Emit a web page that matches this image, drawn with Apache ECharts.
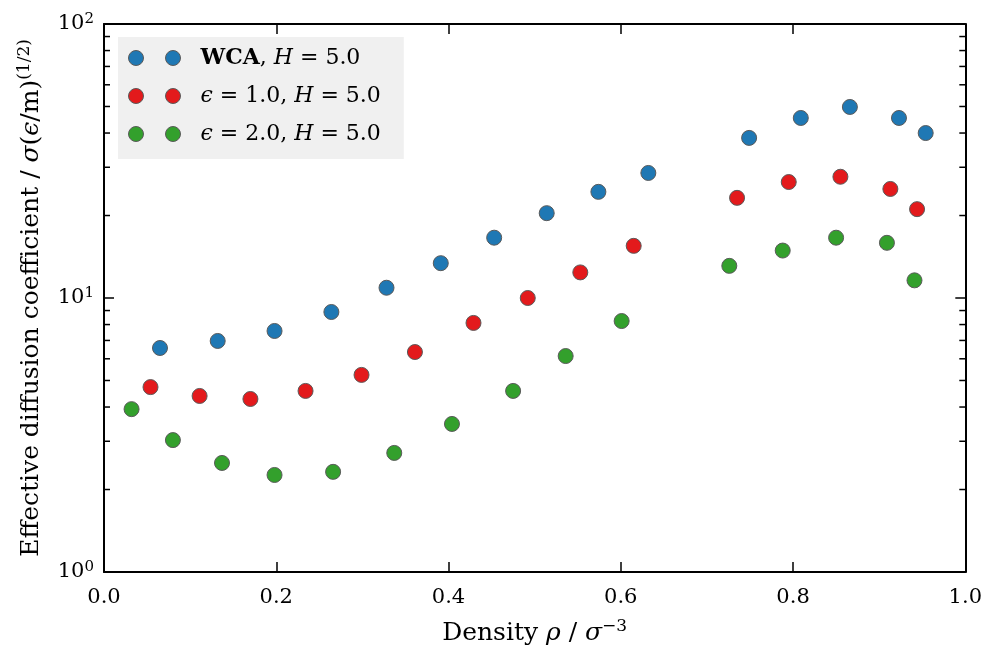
<!DOCTYPE html>
<html>
<head>
<meta charset="utf-8">
<script src="https://cdn.jsdelivr.net/npm/echarts@6/dist/echarts.min.js"></script>
<style>
  html, body { margin: 0; padding: 0; background: #fff; }
  #chart { width: 985px; height: 652px; }
</style>
</head>
<body>
<div id="chart"></div>
<script>
// Density (rho / sigma^-3) and effective diffusion coefficient for each model
const wcaDensity  = [0.065, 0.132, 0.198, 0.264, 0.328, 0.391, 0.453, 0.514, 0.574, 0.632, 0.749, 0.809, 0.866, 0.923, 0.954];
const wcaDiff     = [6.57, 6.97, 7.58, 8.89, 10.9, 13.4, 16.6, 20.4, 24.4, 28.6, 38.4, 45.4, 49.8, 45.4, 40.0];
const eps1Density = [0.054, 0.111, 0.170, 0.234, 0.299, 0.361, 0.429, 0.492, 0.553, 0.615, 0.735, 0.795, 0.855, 0.913, 0.944];
const eps1Diff    = [4.73, 4.39, 4.28, 4.58, 5.24, 6.35, 8.11, 10.0, 12.4, 15.5, 23.2, 26.5, 27.7, 25.0, 21.1];
const eps2Density = [0.032, 0.080, 0.137, 0.198, 0.266, 0.337, 0.404, 0.475, 0.536, 0.601, 0.726, 0.788, 0.850, 0.909, 0.941];
const eps2Diff    = [3.93, 3.03, 2.50, 2.26, 2.32, 2.72, 3.47, 4.58, 6.14, 8.24, 13.1, 14.9, 16.6, 15.9, 11.6];

const seriesNames = ['WCA, H = 5.0', 'ϵ = 1.0, H = 5.0', 'ϵ = 2.0, H = 5.0'];
const xTicks = [0, 0.2, 0.4, 0.6, 0.8, 1.0];
const yMajorTicks = [1, 10, 100];
const yMinorTicks = [2, 3, 4, 5, 6, 7, 8, 9, 20, 30, 40, 50, 60, 70, 80, 90];

const FONT = '"DejaVu Serif", "Liberation Serif", serif';
const colors = ['#1f78b4', '#e31a1c', '#33a02c'];

const chart = echarts.init(document.getElementById('chart'), null, { renderer: 'canvas' });

function pairs(xs, ys) { return xs.map((x, i) => [x, ys[i]]); }

// legend text: bold model name, italic math symbols
const LG = 22;
const legendRich = {
  g: { width: 15 },
  n: { fontFamily: FONT, fontSize: LG, color: '#000' },
  b: { fontFamily: FONT, fontSize: LG, color: '#000', fontWeight: 'bold' },
  i: { fontFamily: FONT, fontSize: LG, color: '#000', fontStyle: 'italic' }
};
const legendText = {
  [seriesNames[0]]: '{g|}{b|WCA}{n|, }{i|H}{n| = 5.0}',
  [seriesNames[1]]: '{g|}{i|ϵ}{n| = 1.0, }{i|H}{n| = 5.0}',
  [seriesNames[2]]: '{g|}{i|ϵ}{n| = 2.0, }{i|H}{n| = 5.0}'
};

const TK = 21;   // tick label size
const TT = 25;   // axis title size
const tickStyle = { color: '#000', width: 1.5 };
const spine = { show: true, onZero: false, lineStyle: { color: '#000', width: 2 } };

const titleRich = {
  t: { fontFamily: FONT, fontSize: TT, color: '#000', lineHeight: 30 },
  m: { fontFamily: FONT, fontSize: TT, color: '#000', lineHeight: 30, fontStyle: 'italic' },
  s: { fontFamily: FONT, fontSize: 17, color: '#000', verticalAlign: 'top', lineHeight: 17 }
};

const scatter = (name, data, color) => ({
  name, type: 'scatter', data, symbol: 'circle', symbolSize: 15,
  itemStyle: { color, borderColor: '#5a5a5a', borderWidth: 1, opacity: 1 },
  emphasis: { disabled: true }
});

chart.setOption({
  animation: false,
  backgroundColor: '#fff',
  grid: { left: 104, right: 18, top: 24, bottom: 80 },
  legend: {
    data: seriesNames,
    orient: 'vertical',
    left: 118, top: 37,
    padding: [10, 23, 14, 10],
    backgroundColor: '#f0f0f0',
    borderWidth: 0,
    itemWidth: 52, itemHeight: 15, itemGap: 16,
    icon: 'path://M0,7.5A7.5,7.5,0,1,0,15,7.5A7.5,7.5,0,1,0,0,7.5ZM37,7.5A7.5,7.5,0,1,0,52,7.5A7.5,7.5,0,1,0,37,7.5Z',
    itemStyle: { borderColor: '#5a5a5a', borderWidth: 1 },
    textStyle: { fontFamily: FONT, fontSize: LG, color: '#000', rich: legendRich },
    formatter: name => legendText[name],
    selectedMode: false
  },
  xAxis: [
    {
      type: 'value', min: xTicks[0], max: xTicks[xTicks.length - 1], interval: 0.2,
      position: 'bottom',
      name: '{t|Density }{m|ρ}{t| / }{m|σ}{s|−3}',
      nameLocation: 'middle', nameGap: 46,
      nameTextStyle: { rich: titleRich },
      axisLine: spine,
      axisTick: { show: true, inside: true, length: 10, lineStyle: tickStyle },
      axisLabel: { margin: 15, fontFamily: FONT, fontSize: TK, color: '#000', formatter: v => v.toFixed(1) },
      splitLine: { show: false }
    },
    {
      type: 'value', min: xTicks[0], max: xTicks[xTicks.length - 1], interval: 0.2,
      position: 'top',
      axisLine: spine,
      axisTick: { show: true, inside: true, length: 10, lineStyle: tickStyle },
      axisLabel: { show: false },
      splitLine: { show: false }
    }
  ],
  yAxis: [
    {
      type: 'log', logBase: 10, min: yMajorTicks[0], max: yMajorTicks[yMajorTicks.length - 1], interval: 1,
      position: 'left',
      name: '{t|Effective diffusion coefficient / }{m|σ}{t|(}{m|ϵ}{t|/m)}{s|(1/2)}',
      nameLocation: 'middle', nameRotate: 90, nameGap: 58,
      nameTextStyle: { rich: titleRich },
      axisLine: spine,
      axisTick: { show: true, inside: true, length: 10, lineStyle: tickStyle },
      axisLabel: {
        margin: 10,
        formatter: v => '{b|10}{s|' + Math.round(Math.log10(v)) + '}',
        rich: {
          b: { fontFamily: FONT, fontSize: TK, color: '#000', lineHeight: 24 },
          s: { fontFamily: FONT, fontSize: 15, color: '#000', verticalAlign: 'top', lineHeight: 15 }
        }
      },
      splitLine: { show: false }
    },
    {
      type: 'log', logBase: 10, min: yMajorTicks[0], max: yMajorTicks[yMajorTicks.length - 1], interval: 1,
      position: 'right',
      axisLine: spine,
      axisTick: { show: true, inside: true, length: 10, lineStyle: tickStyle },
      axisLabel: { show: false },
      splitLine: { show: false }
    }
  ],
  series: [
    // logarithmic minor ticks (2..9 per decade) on both vertical spines
    {
      type: 'custom', silent: true, z: 1,
      xAxisIndex: 0, yAxisIndex: 0,
      data: yMinorTicks.map(v => [0, v]),
      encode: { x: 0, y: 1 },
      renderItem(params, api) {
        const y = api.coord([0, api.value(1)])[1];
        const cs = params.coordSys;
        const st = { stroke: '#000', lineWidth: 1.5 };
        return {
          type: 'group',
          children: [
            { type: 'line', shape: { x1: cs.x, y1: y, x2: cs.x + 6, y2: y }, style: st },
            { type: 'line', shape: { x1: cs.x + cs.width, y1: y, x2: cs.x + cs.width - 6, y2: y }, style: st }
          ]
        };
      }
    },
    scatter(seriesNames[0], pairs(wcaDensity, wcaDiff), colors[0]),
    scatter(seriesNames[1], pairs(eps1Density, eps1Diff), colors[1]),
    scatter(seriesNames[2], pairs(eps2Density, eps2Diff), colors[2])
  ]
});
</script>
</body>
</html>
